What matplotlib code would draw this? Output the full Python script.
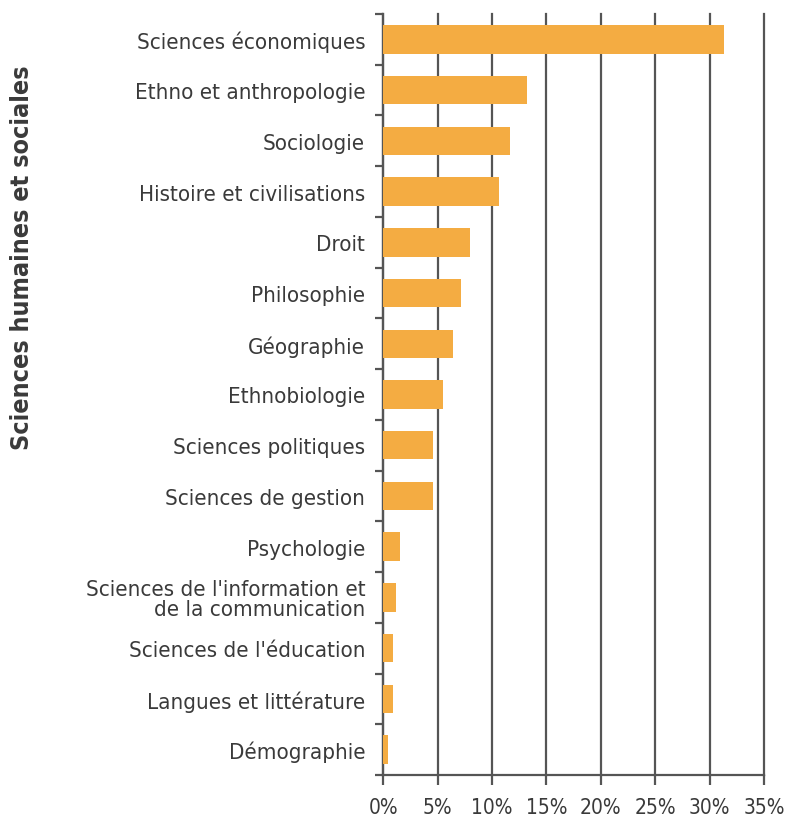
import matplotlib
matplotlib.use("Agg")
import matplotlib.pyplot as plt
import numpy as np
from matplotlib.ticker import FixedLocator, FuncFormatter

categories = [
    "Sciences économiques",
    "Ethno et anthropologie",
    "Sociologie",
    "Histoire et civilisations",
    "Droit",
    "Philosophie",
    "Géographie",
    "Ethnobiologie",
    "Sciences politiques",
    "Sciences de gestion",
    "Psychologie",
    "Sciences de l'information et\nde la communication",
    "Sciences de l'éducation",
    "Langues et littérature",
    "Démographie",
]
values = [31.3, 13.2, 11.65, 10.65, 8.0, 7.15, 6.45, 5.45, 4.55, 4.55, 1.55, 1.15, 0.9, 0.9, 0.45]
xticks = [0, 5, 10, 15, 20, 25, 30, 35]
ylabel = "Sciences humaines et sociales"

plt.rcParams['font.family'] = ['DejaVu Sans']
plt.rcParams['font.stretch'] = 'condensed'

fig = plt.figure(figsize=(7.92, 8.2), dpi=100)
ax = fig.add_axes([383.3/792, 1-776/820, (764-383.3)/792, (776-15)/820])

n = len(categories)
y = np.arange(n)
grid_color = "#555555"
text_color = "#3a3a3a"
ax.barh(y, values, height=0.56, color="#F4AC42", zorder=3)
ax.set_ylim(n - 0.5, -0.5)
ax.set_xlim(0, 35)

ax.set_xticks(xticks)
ax.xaxis.set_major_formatter(FuncFormatter(lambda v, p: f"{int(v)}%"))
ax.set_yticks(y)
ax.set_yticklabels(categories, fontsize=16, color=text_color, linespacing=1.0,
                   fontstretch='condensed')
ax.tick_params(axis='y', which='major', length=0, pad=13)
ax.yaxis.set_minor_locator(FixedLocator(np.arange(-0.5, n, 1.0)))
ax.tick_params(axis='y', which='minor', length=6, width=1.6, color=grid_color)
ax.tick_params(axis='x', which='major', length=7, width=1.6, color=grid_color,
               labelsize=15, labelcolor=text_color, pad=9)
for lab in ax.get_xticklabels():
    lab.set_fontstretch('condensed')

for s in ["top", "right"]:
    ax.spines[s].set_visible(False)
for s in ["left", "bottom"]:
    ax.spines[s].set_color(grid_color)
    ax.spines[s].set_linewidth(1.6)

ax.grid(axis='x', color=grid_color, linewidth=1.6, zorder=0)
for gl in ax.get_xgridlines():
    gl.set_clip_on(False)
ax.set_axisbelow(True)

fig.text(22/792, 1-258/820, ylabel, rotation=90, ha='center', va='center',
         fontsize=18, fontweight='bold', color=text_color, fontstretch='condensed')

fig.savefig("out.png", dpi=100)
